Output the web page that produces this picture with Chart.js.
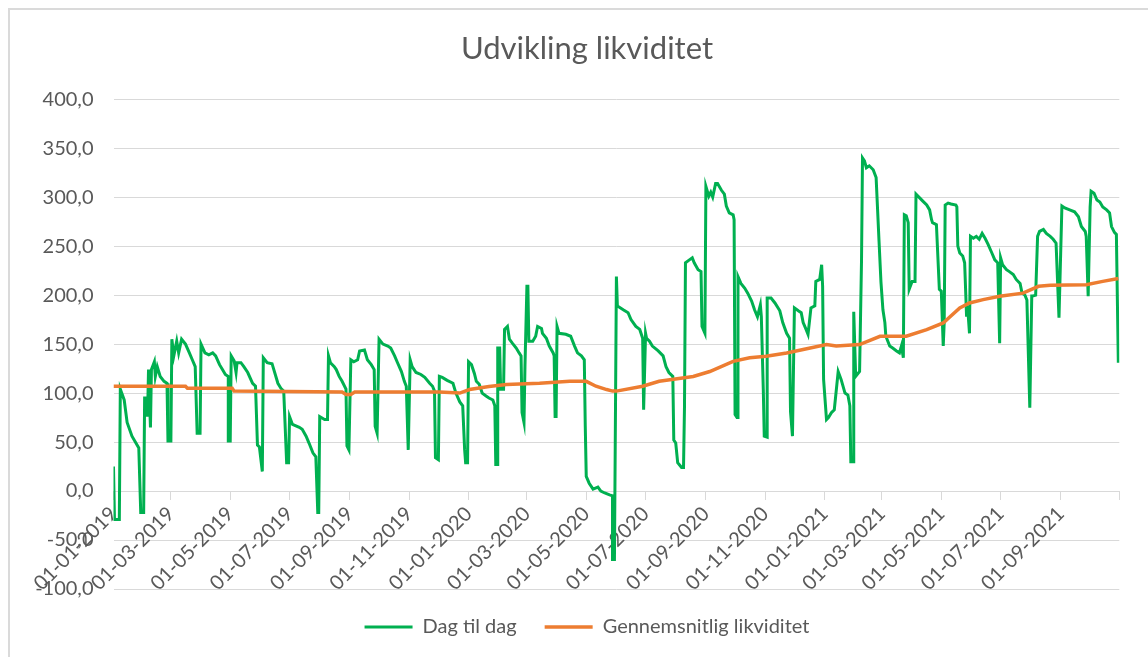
<!DOCTYPE html>
<html>
<head>
<meta charset="utf-8">
<script src="https://cdn.jsdelivr.net/npm/chart.js@4"></script>
<style>
  html, body { margin: 0; padding: 0; background: #fff; overflow: hidden; }
  #ramme { position: absolute; left: 8px; top: 8px; width: 1300px; height: 800px;
           border-left: 2px solid #dadada; border-top: 2px solid #dadada; }
  #graf { position: absolute; left: 0; top: 0; }
</style>
</head>
<body>
<div id="ramme"></div>
<canvas id="graf" width="1174" height="657"></canvas>
<script>
// Dage regnet fra 01-01-2019
const startDato = Date.UTC(2019, 0, 1);
const slutDag = 1034;

const tickDatoer = ['01-01-2019', '01-03-2019', '01-05-2019', '01-07-2019', '01-09-2019', '01-11-2019',
  '01-01-2020', '01-03-2020', '01-05-2020', '01-07-2020', '01-09-2020', '01-11-2020',
  '01-01-2021', '01-03-2021', '01-05-2021', '01-07-2021', '01-09-2021'];

// Dag til dag
const dagDage = [0, 1, 6, 7, 11, 14, 19, 26, 28, 31, 32, 33, 35, 36, 38, 39, 42, 43, 45, 48,
  52, 55, 56, 59, 60, 62, 65, 67, 70, 74, 78, 81, 84, 86, 89, 90, 94, 98, 102, 105,
  109, 112, 115, 118, 118, 120, 121, 124, 126, 127, 131, 134, 138, 143, 146, 148, 150, 153, 154, 158,
  163, 169, 172, 175, 178, 180, 181, 184, 191, 194, 198, 201, 205, 208, 210, 211, 212, 217, 220, 221,
  223, 227, 229, 232, 235, 239, 240, 242, 244, 247, 251, 253, 258, 261, 265, 268, 269, 271, 273, 277,
  282, 285, 289, 292, 296, 299, 301, 303, 305, 307, 311, 316, 320, 325, 328, 330, 331, 334, 335, 338,
  343, 349, 352, 356, 359, 361, 362, 364, 365, 368, 371, 373, 376, 379, 383, 386, 390, 392, 393, 395,
  395, 397, 398, 401, 402, 405, 407, 410, 414, 417, 419, 420, 422, 423, 425, 426, 427, 431, 434, 436,
  440, 441, 445, 448, 452, 453, 454, 455, 456, 458, 465, 470, 474, 477, 481, 484, 485, 486, 489, 493,
  498, 501, 505, 510, 513, 513, 515, 517, 518, 524, 529, 532, 537, 541, 544, 545, 547, 548, 551, 554,
  560, 565, 568, 571, 575, 576, 578, 580, 584, 586, 587, 588, 592, 595, 597, 601, 604, 605, 608, 609,
  612, 614, 616, 619, 621, 625, 628, 630, 633, 637, 638, 639, 641, 642, 645, 649, 652, 656, 659, 662,
  665, 666, 668, 669, 672, 672, 676, 680, 685, 688, 692, 695, 696, 698, 700, 704, 707, 709, 712, 714,
  717, 721, 722, 726, 728, 729, 730, 733, 735, 738, 741, 745, 748, 752, 755, 757, 758, 761, 761, 763,
  767, 769, 770, 772, 774, 777, 781, 784, 787, 789, 791, 793, 794, 798, 801, 805, 808, 810, 812, 813,
  815, 817, 818, 821, 824, 825, 829, 832, 836, 839, 841, 842, 846, 849, 851, 853, 854, 855, 858, 861,
  866, 867, 868, 870, 873, 875, 877, 878, 880, 881, 884, 887, 890, 893, 896, 899, 903, 906, 909, 911,
  912, 914, 918, 921, 925, 928, 932, 934, 937, 939, 942, 944, 945, 948, 950, 952, 956, 959, 963, 966,
  969, 972, 975, 978, 983, 988, 992, 995, 999, 1000, 1002, 1004, 1005, 1008, 1011, 1014, 1017, 1021, 1024, 1026,
  1029, 1031, 1033];
const dagVaerdier = [25, -29, -29, 104, 93, 70, 56, 44, -22, -22, 95, 95, 76, 124, 65, 124, 132, 117, 127, 117,
  112, 110, 51, 51, 155, 138, 153, 141, 155, 150, 141, 134, 127, 59, 59, 150, 141, 139, 141, 138,
  129, 124, 119, 117, 51, 51, 138, 133, 121, 131, 131, 127, 121, 110, 107, 47, 45, 20, 136, 131,
  130, 110, 105, 102, 29, 29, 76, 68, 65, 63, 56, 49, 39, 35, -22, -22, 76, 73, 73, 138,
  131, 127, 124, 117, 112, 104, 46, 42, 134, 132, 134, 143, 144, 134, 129, 124, 66, 59, 155, 150,
  148, 146, 138, 131, 122, 112, 107, 42, 134, 127, 121, 119, 116, 110, 107, 102, 34, 32, 117, 116,
  113, 110, 100, 91, 87, 42, 29, 29, 132, 129, 120, 112, 109, 100, 97, 95, 93, 87, 27, 27,
  146, 146, 104, 104, 165, 168, 155, 151, 146, 141, 138, 80, 70, 127, 209, 209, 153, 153, 158, 168,
  166, 161, 156, 148, 141, 138, 76, 76, 168, 161, 160, 158, 148, 141, 138, 134, 66, 15, 8, 2,
  4, 0, -2, -4, -5, -70, -70, 219, 189, 185, 182, 175, 168, 165, 156, 83, 161, 156, 153, 148,
  143, 138, 127, 121, 117, 52, 49, 29, 24, 24, 86, 233, 236, 238, 233, 226, 224, 168, 161, 311,
  301, 305, 300, 314, 314, 307, 303, 291, 284, 282, 277, 78, 75, 219, 212, 207, 202, 194, 185, 178,
  190, 178, 104, 56, 55, 197, 197, 192, 184, 172, 161, 156, 81, 56, 187, 184, 182, 172, 165, 160,
  187, 189, 214, 216, 231, 209, 114, 73, 75, 80, 83, 122, 114, 100, 98, 87, 30, 30, 183, 117,
  122, 236, 340, 337, 330, 332, 328, 320, 255, 213, 185, 172, 158, 148, 146, 143, 141, 148, 136, 282,
  281, 274, 206, 214, 214, 303, 299, 296, 292, 287, 277, 274, 272, 206, 204, 148, 172, 292, 294, 293,
  292, 290, 250, 243, 240, 233, 178, 189, 161, 260, 258, 260, 257, 263, 258, 252, 243, 236, 233, 151,
  238, 231, 226, 224, 221, 216, 212, 202, 200, 195, 85, 199, 199, 200, 260, 265, 267, 263, 260, 257,
  253, 177, 291, 289, 287, 285, 280, 270, 265, 260, 199, 290, 306, 304, 297, 295, 290, 287, 284, 270,
  264, 262, 131];

// Gennemsnitlig likviditet
const snitDage = [0, 74, 76, 122, 124, 235, 239, 244, 248, 335, 356, 366, 386, 404, 438, 469, 486, 496, 507, 513,
  517, 544, 561, 585, 596, 613, 637, 654, 671, 692, 709, 733, 743, 767, 788, 815, 836, 853, 860, 870,
  880, 894, 911, 935, 951, 963, 1000, 1017, 1033];
const snitVaerdier = [107, 107, 105, 105, 102, 101, 98.5, 98.5, 101, 101, 100, 103.6, 106.7, 108.7, 110, 112, 112, 107, 103.6, 102,
  102, 107, 112, 115.5, 117, 122, 132.4, 136, 137.6, 141, 144.4, 149.5, 148, 149.5, 158, 158, 164.8, 171.6, 178, 187,
  192, 195.4, 198.8, 202, 209, 210, 210.7, 214, 217];

function tilDag(tekst) {
  const [d, m, y] = tekst.split('-').map(Number);
  return Math.round((Date.UTC(y, m - 1, d) - startDato) / 86400000);
}
function tilTekst(dag) {
  const dt = new Date(startDato + dag * 86400000);
  const p = n => String(n).padStart(2, '0');
  return p(dt.getUTCDate()) + '-' + p(dt.getUTCMonth() + 1) + '-' + dt.getUTCFullYear();
}
const tickDage = tickDatoer.map(tilDag);

const graa = '#595959';
const gitter = '#d9d9d9';

new Chart(document.getElementById('graf'), {
  type: 'line',
  data: {
    datasets: [{
      label: 'Dag til dag',
      data: dagDage.map((d, i) => ({ x: d, y: dagVaerdier[i] })),
      borderColor: '#00b050',
      backgroundColor: '#00b050',
      borderWidth: 3,
      pointRadius: 0,
      order: 1
    }, {
      label: 'Gennemsnitlig likviditet',
      data: snitDage.map((d, i) => ({ x: d, y: snitVaerdier[i] })),
      borderColor: '#ed7d31',
      backgroundColor: '#ed7d31',
      borderWidth: 3.5,
      pointRadius: 0,
      order: 0
    }]
  },
  options: {
    responsive: false,
    animation: false,
    layout: { padding: { left: 0, right: 0, top: 0, bottom: 10 } },
    plugins: {
      title: {
        display: true,
        text: 'Udvikling likviditet',
        color: graa,
        font: { family: 'Lato', size: 31, weight: 'normal' },
        padding: { top: 30, bottom: 32 }
      },
      legend: {
        position: 'bottom',
        labels: {
          usePointStyle: true,
          pointStyle: 'line',
          pointStyleWidth: 48,
          padding: 28,
          color: graa,
          font: { family: 'Lato', size: 20 },
          sort: (a, b) => a.datasetIndex - b.datasetIndex
        }
      },
      tooltip: { enabled: false }
    },
    scales: {
      x: {
        type: 'linear',
        position: { y: 0 },
        min: 0,
        max: slutDag,
        afterBuildTicks: (akse) => {
          akse.ticks = tickDage.concat([slutDag]).map(v => ({ value: v }));
        },
        ticks: {
          autoSkip: false,
          maxRotation: 45,
          minRotation: 45,
          color: graa,
          font: { family: 'Lato', size: 20 },
          callback: (v) => (v === slutDag ? '' : tilTekst(v))
        },
        grid: { drawOnChartArea: false, drawTicks: true, tickLength: 8, color: gitter },
        border: { color: gitter, width: 1 }
      },
      y: {
        min: -100,
        max: 400,
        afterFit: (akse) => { akse.width = 113.5; },
        ticks: {
          stepSize: 50,
          padding: 20,
          color: graa,
          font: { family: 'Lato', size: 20 },
          callback: (v) => v.toFixed(1).replace('.', ',')
        },
        grid: { color: gitter, drawTicks: false },
        border: { display: false }
      },
      hoejre: {
        type: 'linear',
        position: 'right',
        grid: { display: false },
        border: { display: false },
        ticks: { display: false },
        afterFit: (akse) => { akse.width = 54.7; }
      }
    }
  }
});
</script>
</body>
</html>
